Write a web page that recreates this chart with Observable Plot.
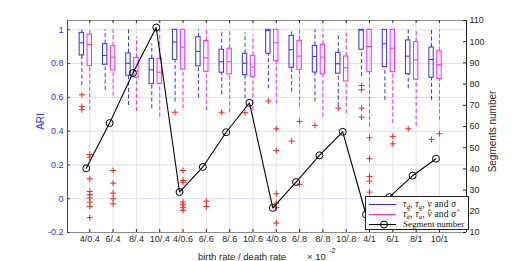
<!DOCTYPE html>
<html><head><meta charset="utf-8">
<script src="https://cdn.jsdelivr.net/npm/d3@7"></script>
<script src="https://cdn.jsdelivr.net/npm/@observablehq/plot@0.6"></script>
<style>
body{margin:0;background:#fff}
#chart{position:relative;width:515px;height:261px;overflow:hidden;background:#fff}
#legend{position:absolute;left:365px;top:196px;width:102px;height:32px;border:1px solid #222;background:#fff;
  font-family:"Liberation Serif","Times New Roman",serif;font-size:9px;line-height:9px;color:#111;box-sizing:content-box}
#legend .row{position:absolute;left:0;height:9px;display:flex;align-items:center;white-space:nowrap;overflow:visible}
#legend .math{font-size:9.5px;line-height:9px;letter-spacing:0.2px}
#legend svg{flex:none}
#legend sub{font-size:6.5px;vertical-align:-1.5px;line-height:0}
</style></head><body><div id="chart"></div>
<script>
// ---------------- data ----------------
const categories = ["4/0.4","6/.4","8/.4","10/.4","4/0.6","6/.6","8/.6","10/.6","4/0.8","6/.8","8/.8","10/.8","4/1","6/1","8/1","10/1"];
const segments = [40.3, 61.6, 85.2, 106.7, 29.1, 40.9, 57.3, 71.2, 21.6, 33.8, 46.4, 57.5, 18.5, 26.7, 36.8, 44.8];

// true parameters (blue)
const blueMin    = [0.670,0.641,0.552,0.533,0.572,0.598,0.615,0.592,0.651,0.631,0.572,0.546,0.724,0.582,0.651,0.582];
const blueQ1     = [0.848,0.793,0.728,0.678,0.822,0.783,0.746,0.731,0.858,0.775,0.747,0.740,0.882,0.779,0.737,0.716];
const blueMedian = [0.923,0.848,0.802,0.763,0.927,0.872,0.811,0.802,0.995,0.882,0.842,0.799,0.998,0.917,0.844,0.824];
const blueQ3     = [0.982,0.915,0.860,0.828,1.000,0.956,0.882,0.858,1.000,0.964,0.905,0.864,1.000,1.000,0.937,0.895];
const blueMax    = [1.000,1.000,1.000,0.917,1.000,1.000,1.000,0.982,1.000,1.000,1.000,0.982,1.000,1.000,1.000,1.000];
const blueOutliers = [[0.615,0.546,0.527],[],[],[],[0.512],[],[0.512],[0.509],[0.578],[0.341],[0.434],[0.536],[0.670,0.645,0.536,0.483],[],[0.414],[0.351]];

// estimated parameters (magenta)
const pinkMin    = [0.522,0.607,0.517,0.483,0.533,0.522,0.510,0.520,0.562,0.542,0.483,0.503,0.424,0.445,0.430,0.464];
const pinkQ1     = [0.785,0.759,0.716,0.680,0.765,0.751,0.736,0.722,0.814,0.763,0.736,0.694,0.749,0.749,0.704,0.708];
const pinkMedian = [0.913,0.838,0.755,0.749,0.897,0.834,0.811,0.779,0.923,0.844,0.838,0.775,0.901,0.891,0.822,0.793];
const pinkQ3     = [0.972,0.903,0.834,0.828,1.000,0.933,0.888,0.846,1.000,0.935,0.911,0.842,1.000,1.000,0.927,0.873];
const pinkMax    = [1.000,1.000,0.956,1.000,1.000,1.000,1.000,0.966,1.000,1.000,1.000,0.980,1.000,1.000,1.000,1.000];
const pinkOutliers = [[0.262,0.246,0.118,0.043,0.024,0.004,-0.020,-0.046,-0.112],[0.167,0.092,0.033,0.000,-0.030],[],[],
  [0.167,0.108,0.098,-0.020,-0.036,-0.053,-0.069],[-0.014,-0.046],[],[],[0.414,0.286,0.030,-0.026,-0.053,-0.144],[0.457,0.085],[],[],
  [0.361,0.237,0.132,0.104,0.039],[0.369,0.325],[],[0.385]];

const ariTicks = [-0.2, 0, 0.2, 0.4, 0.6, 0.8, 1];
const segTicks = [10, 20, 30, 40, 50, 60, 70, 80, 90, 100, 110];
const legendLabels = [
  '<span class="math"><i>τ<sub>d</sub></i>, <i>τ<sub>a</sub></i>, <i>v</i> and <i>σ</i></span>',
  '<span class="math"><i>τ̂<sub>d</sub></i>, <i>τ̂<sub>a</sub></i>, <i>v̂</i> and <i>σ̂</i></span>',
  'Segment number'
];

// ---------------- layout ----------------
const W = 515, H = 261, mL = 67, mR = 49, mT = 20, mB = 29;
const innerW = W - mL - mR, innerH = H - mT - mB;
const xDomain = [0.044, 17.16];
const yDomain = [-0.2, 1.055];
const BLUE = "#2f2ff5", PINK = "#ff22ff", RED = "#ff2020", INK = "#262626";
const FONT = "'Liberation Sans', Arial, Helvetica, sans-serif";
const bw = 0.094;

function series(mn, q1, md, q3, mx, off) {
  return categories.map((c, i) => ({pos: i + 1 + off, lo: mn[i], q1: q1[i], med: md[i], q3: q3[i], hi: mx[i]}));
}
function outl(arr, off) {
  const r = [];
  arr.forEach((vs, i) => vs.forEach(v => r.push({pos: i + 1 + off, v})));
  return r;
}
const blue = series(blueMin, blueQ1, blueMedian, blueQ3, blueMax, -0.34);
const pink = series(pinkMin, pinkQ1, pinkMedian, pinkQ3, pinkMax, 0);
const outs = outl(blueOutliers, -0.34).concat(outl(pinkOutliers, 0));
const segRows = segments.map((n, i) => ({pos: i + 1 - 0.15, n}));

function boxMarks(data, color) {
  return [
    Plot.ruleX(data, {x: "pos", y1: "q3", y2: "hi", stroke: color, strokeWidth: 1, strokeDasharray: "4,2.5"}),
    Plot.ruleX(data, {x: "pos", y1: "lo", y2: "q1", stroke: color, strokeWidth: 1, strokeDasharray: "4,2.5"}),
    Plot.rect(data, {x1: d => d.pos - bw, x2: d => d.pos + bw, y1: "q1", y2: "q3", stroke: color, fill: "none", strokeWidth: 1}),
    Plot.ruleY(data, {y: "med", x1: d => d.pos - bw, x2: d => d.pos + bw, stroke: color})
  ];
}

const catTicks = d3.range(1, categories.length + 1);

const p1 = Plot.plot({
  width: W, height: H, marginLeft: mL, marginRight: mR, marginTop: mT, marginBottom: mB,
  x: {type: "linear", domain: xDomain},
  y: {domain: yDomain},
  style: {background: "transparent", fontFamily: FONT, fontSize: "9px"},
  marks: [
    Plot.ruleY(ariTicks.filter(v => v > -0.2), {stroke: "#dcdcfa", strokeWidth: 1}),
    Plot.ruleX(catTicks, {stroke: "#e4e4e4", strokeWidth: 1}),
    ...boxMarks(blue, BLUE),
    ...boxMarks(pink, PINK),
    Plot.dot(outs, {x: "pos", y: "v", symbol: "plus", r: 2.1, stroke: RED, strokeWidth: 1}),
    // frame
    Plot.ruleY([yDomain[1]], {stroke: "#8a8a8a"}),
    Plot.ruleY([yDomain[0]], {stroke: "#8a8a8a"}),
    Plot.ruleX([xDomain[0]], {stroke: BLUE}),
    // inward ticks
    Plot.ruleX(catTicks, {insetTop: innerH - 3, stroke: INK}),
    Plot.ruleX(catTicks, {insetBottom: innerH - 3, stroke: INK}),
    Plot.ruleY(ariTicks, {insetRight: innerW - 3, stroke: BLUE}),
    Plot.axisY({ticks: ariTicks, tickSize: 0, tickPadding: 4, label: null, color: BLUE,
      tickFormat: v => String(+v.toFixed(1))}),
    Plot.axisX({ticks: catTicks, tickSize: 0, tickPadding: 3, label: null, color: INK,
      tickFormat: i => categories[i - 1]}),
    Plot.text(["ARI"], {frameAnchor: "left", dx: -27, dy: -5, rotate: -90, textAnchor: "middle", lineAnchor: "middle", fill: BLUE, fontSize: 10}),
    Plot.text(["birth rate / death rate"], {frameAnchor: "bottom", dx: -25, dy: 24, lineAnchor: "middle", textAnchor: "middle", fill: INK, fontSize: 9.5}),
    Plot.text(["× 10"], {frameAnchor: "bottom", dx: 40, dy: 24, lineAnchor: "middle", textAnchor: "start", fill: INK, fontSize: 9.5}),
    Plot.text(["-2"], {frameAnchor: "bottom", dx: 62, dy: 18, lineAnchor: "middle", textAnchor: "start", fill: INK, fontSize: 7.5})
  ]
});

const p2 = Plot.plot({
  width: W, height: H, marginLeft: mL, marginRight: mR, marginTop: mT, marginBottom: mB,
  x: {type: "linear", domain: xDomain, axis: null},
  y: {domain: [10, 110]},
  style: {background: "transparent", fontFamily: FONT, fontSize: "9px"},
  marks: [
    Plot.ruleX([xDomain[1]], {stroke: INK}),
    Plot.ruleY(segTicks, {insetLeft: innerW - 3, stroke: INK}),
    Plot.axisY({anchor: "right", ticks: segTicks, tickSize: 0, tickPadding: 3, label: null, color: INK}),
    Plot.line(segRows, {x: "pos", y: "n", stroke: "#000", strokeWidth: 1.1}),
    Plot.dot(segRows, {x: "pos", y: "n", r: 3.5, stroke: "#000", fill: "none", strokeWidth: 1}),
    Plot.text(["Segments number"], {frameAnchor: "right", dx: 26, dy: 5, rotate: -90, textAnchor: "middle", lineAnchor: "middle", fill: INK, fontSize: 10})
  ]
});

const chart = document.getElementById("chart");
for (const p of [p1, p2]) {
  p.style.position = "absolute"; p.style.left = "0"; p.style.top = "0";
  chart.appendChild(p);
}

// legend
const legend = document.createElement("div");
legend.id = "legend";
const legendStyles = [{stroke: BLUE, marker: false}, {stroke: PINK, marker: false}, {stroke: "#000", marker: true}];
legendLabels.forEach((lab, i) => {
  const row = document.createElement("div");
  row.className = "row";
  row.style.top = (3 + i * 9.8) + "px";
  const st = legendStyles[i];
  row.innerHTML = `<svg width="37" height="9"><line x1="3" x2="30" y1="4.5" y2="4.5" stroke="${st.stroke}" stroke-width="1"/>` +
    (st.marker ? `<circle cx="18" cy="4.5" r="3.5" fill="none" stroke="#000"/>` : "") +
    `</svg><span>${lab}</span>`;
  legend.appendChild(row);
});
chart.appendChild(legend);
</script>
</body></html>
